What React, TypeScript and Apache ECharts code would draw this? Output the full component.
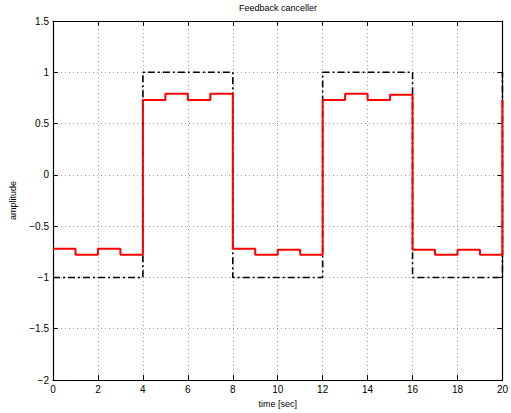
import React, { useEffect, useRef } from "react";
import * as echarts from "echarts";

const redX = [0, 1, 2, 3, 4, 5, 6, 7, 8, 9, 10, 11, 12, 13, 14, 15, 16, 17, 18, 19, 20];
const redY = [-0.72, -0.78, -0.72, -0.78, 0.73, 0.79, 0.73, 0.79, -0.72, -0.78, -0.73, -0.78, 0.73, 0.79, 0.73, 0.78, -0.73, -0.78, -0.73, -0.78, 0.73];
const refX = [0, 4, 8, 12, 16, 20];
const refY = [-1, 1, -1, 1, -1, 1];
const xTicks = [0, 2, 4, 6, 8, 10, 12, 14, 16, 18, 20];
const yTicks = [-2, -1.5, -1, -0.5, 0, 0.5, 1, 1.5];

const FONT = "Liberation Sans";

export default function App() {
  const ref = useRef<HTMLDivElement>(null);
  useEffect(() => {
    const chart = echarts.init(ref.current!, null, { renderer: "svg" });
    const fmt = (v: number) => String(v).replace("-", "\u2212");
    const grid = { show: true, lineStyle: { type: [1, 3] as any, color: "#888", width: 0.8 } };
    chart.setOption({
      animation: false,
      backgroundColor: "#fff",
      graphic: [
        {
          type: "text", x: 278, y: 3,
          style: { text: "Feedback canceller", fontFamily: FONT, fontSize: 9, fill: "#000", align: "center", verticalAlign: "top" },
        },
      ],
      grid: { left: 48, right: 3, top: 21, bottom: 30, containLabel: false },
      xAxis: [
        {
          type: "value", min: xTicks[0], max: xTicks[xTicks.length - 1], interval: 2,
          name: "time [sec]", nameLocation: "middle", nameGap: 19,
          nameTextStyle: { fontFamily: FONT, fontSize: 9, color: "#000" },
          axisLine: { onZero: false, lineStyle: { color: "#000", width: 1.2 } },
          axisTick: { inside: true, length: 5, lineStyle: { color: "#000" } },
          axisLabel: { fontFamily: FONT, fontSize: 10, color: "#000", margin: 4 },
          splitLine: grid,
        },
        {
          type: "value", min: 0, max: 20, interval: 2, position: "top",
          axisLine: { onZero: false, lineStyle: { color: "#000", width: 1.2 } },
          axisTick: { inside: true, length: 5, lineStyle: { color: "#000" } },
          axisLabel: { show: false },
          splitLine: { show: false },
        },
      ],
      yAxis: [
        {
          type: "value", min: yTicks[0], max: yTicks[yTicks.length - 1], interval: 0.5,
          name: "amplitude", nameLocation: "middle", nameGap: 36,
          nameTextStyle: { fontFamily: FONT, fontSize: 9, color: "#000" },
          axisLine: { onZero: false, lineStyle: { color: "#000", width: 1.2 } },
          axisTick: { inside: true, length: 5, lineStyle: { color: "#000" } },
          axisLabel: { fontFamily: FONT, fontSize: 10, color: "#000", margin: 4, formatter: fmt },
          splitLine: grid,
        },
        {
          type: "value", min: -2, max: 1.5, interval: 0.5, position: "right",
          axisLine: { onZero: false, lineStyle: { color: "#000", width: 1.2 } },
          axisTick: { inside: true, length: 5, lineStyle: { color: "#000" } },
          axisLabel: { show: false },
          splitLine: { show: false },
        },
      ],
      series: [
        {
          type: "line", step: "end", symbol: "none",
          data: refX.map((x, i) => [x, refY[i]]),
          lineStyle: { color: "#000", width: 1.6, type: [7, 3, 2, 3] as any },
          z: 2,
        },
        {
          type: "line", step: "end", symbol: "none",
          data: redX.map((x, i) => [x, redY[i]]),
          lineStyle: { color: "#ff0000", width: 2 },
          z: 3,
        },
      ],
    });
    return () => chart.dispose();
  }, []);
  return <div ref={ref} style={{ width: 511, height: 413, position: "absolute", left: 0, top: 0 }} />;
}
